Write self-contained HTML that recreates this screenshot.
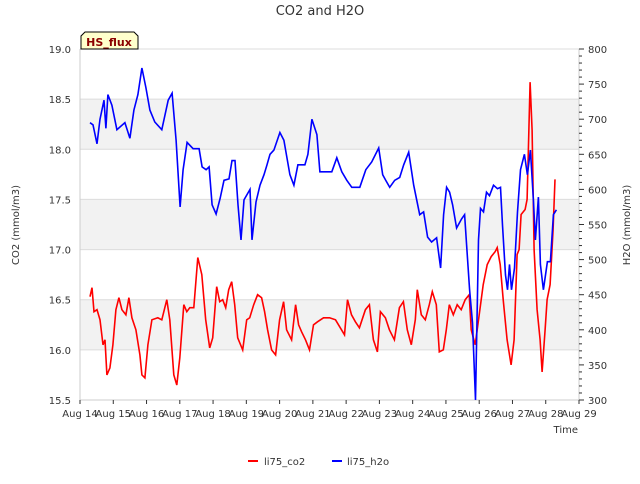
<!DOCTYPE html>
<html><head><meta charset="utf-8"><style>
body{margin:0;background:#fff;font-family:"DejaVu Sans","Liberation Sans",sans-serif;}
svg text{font-family:"DejaVu Sans","Liberation Sans",sans-serif;}
</style></head><body>
<svg id="c" width="640" height="480" xmlns="http://www.w3.org/2000/svg"></svg>
<script>
const xTickLabels=["Aug 14","Aug 15","Aug 16","Aug 17","Aug 18","Aug 19","Aug 20","Aug 21","Aug 22","Aug 23","Aug 24","Aug 25","Aug 26","Aug 27","Aug 28","Aug 29"];
const leftTicks=[15.5,16.0,16.5,17.0,17.5,18.0,18.5,19.0];
const rightTicks=[300,350,400,450,500,550,600,650,700,750,800];
const h2oDays=[0.30,0.39,0.51,0.60,0.72,0.78,0.84,0.96,1.11,1.35,1.50,1.62,1.74,1.86,1.98,2.10,2.25,2.46,2.65,2.77,2.89,3.01,3.10,3.22,3.40,3.58,3.67,3.79,3.88,3.97,4.09,4.21,4.33,4.48,4.57,4.66,4.75,4.84,4.93,5.11,5.17,5.29,5.41,5.53,5.62,5.71,5.83,6.01,6.13,6.31,6.43,6.55,6.76,6.85,6.97,7.12,7.21,7.39,7.57,7.72,7.87,8.02,8.17,8.41,8.59,8.77,8.98,9.10,9.19,9.31,9.46,9.61,9.73,9.88,10.03,10.21,10.33,10.45,10.57,10.72,10.84,10.93,11.02,11.11,11.20,11.32,11.47,11.56,11.62,11.71,11.80,11.89,11.98,12.04,12.13,12.22,12.31,12.43,12.55,12.64,12.70,12.79,12.85,12.91,12.97,13.06,13.15,13.24,13.36,13.45,13.54,13.63,13.69,13.78,13.84,13.93,14.05,14.14,14.23,14.32];
const h2oValues=[695,692,665,700,727,687,735,720,685,695,673,713,735,773,745,713,696,685,727,737,670,575,628,667,658,658,632,628,632,578,565,587,613,615,641,641,578,528,585,600,528,582,606,621,635,650,656,681,670,621,606,635,635,650,700,678,625,625,625,645,625,613,603,603,628,639,659,621,613,603,613,617,635,653,606,564,568,532,525,531,488,564,603,596,578,545,558,564,521,457,410,300,528,573,568,596,591,606,601,603,549,478,457,493,457,488,568,628,650,621,656,585,528,589,493,457,497,497,564,571];
const co2Days=[0.30,0.36,0.42,0.51,0.60,0.69,0.75,0.81,0.90,0.99,1.08,1.17,1.26,1.38,1.47,1.56,1.68,1.80,1.86,1.95,2.04,2.16,2.34,2.46,2.61,2.70,2.82,2.91,3.00,3.12,3.21,3.30,3.42,3.54,3.66,3.78,3.90,3.99,4.11,4.20,4.29,4.38,4.47,4.56,4.65,4.74,4.89,5.01,5.10,5.22,5.34,5.46,5.55,5.64,5.76,5.88,6.00,6.12,6.21,6.36,6.48,6.57,6.66,6.78,6.90,7.02,7.14,7.32,7.50,7.68,7.86,7.95,8.04,8.16,8.28,8.40,8.58,8.70,8.82,8.94,9.03,9.18,9.30,9.45,9.60,9.72,9.84,9.96,10.08,10.14,10.26,10.38,10.50,10.59,10.71,10.80,10.92,11.01,11.10,11.22,11.34,11.46,11.58,11.70,11.76,11.88,12.00,12.12,12.24,12.36,12.48,12.54,12.63,12.72,12.84,12.96,13.05,13.14,13.20,13.26,13.38,13.44,13.53,13.59,13.65,13.74,13.83,13.89,13.98,14.04,14.13,14.22,14.28];
const co2Values=[16.53,16.62,16.38,16.40,16.30,16.05,16.10,15.75,15.82,16.05,16.40,16.52,16.40,16.35,16.52,16.32,16.20,15.95,15.75,15.72,16.05,16.30,16.32,16.30,16.50,16.30,15.75,15.65,15.92,16.45,16.38,16.42,16.42,16.92,16.75,16.30,16.02,16.12,16.63,16.48,16.50,16.42,16.60,16.68,16.45,16.12,16.00,16.30,16.32,16.45,16.55,16.52,16.38,16.20,16.00,15.95,16.30,16.48,16.20,16.10,16.45,16.25,16.18,16.10,16.00,16.25,16.28,16.32,16.32,16.30,16.20,16.15,16.50,16.35,16.28,16.22,16.40,16.45,16.10,15.98,16.38,16.32,16.20,16.10,16.42,16.48,16.20,16.05,16.30,16.60,16.35,16.30,16.45,16.58,16.45,15.98,16.00,16.20,16.45,16.35,16.45,16.40,16.50,16.55,16.20,16.05,16.35,16.65,16.85,16.93,16.98,17.02,16.85,16.50,16.10,15.85,16.10,16.95,17.00,17.35,17.40,17.50,18.67,18.19,17.00,16.40,16.10,15.78,16.20,16.50,16.65,17.20,17.70];

const NS="http://www.w3.org/2000/svg";
const svg=document.getElementById('c');
const L=80,R=579,T=49,B=400;
const xS=d=>L+(R-L)*d/15;
const yL=v=>B-(v-15.5)/3.5*(B-T);
const yR=v=>B-(v-300)/500*(B-T);
function mk(tag,attrs,name,txt){const e=document.createElementNS(NS,tag);for(const k in attrs)e.setAttribute(k,attrs[k]);


if(txt!==undefined)e.textContent=txt;svg.appendChild(e);return e;}
mk('text',{x:320,y:15,'text-anchor':'middle','font-size':13,fill:'#333'},'chart-title','CO2 and H2O');
[[16.0,16.5],[17.0,17.5],[18.0,18.5]].forEach((b,i)=>mk('rect',{x:L,y:yL(b[1]),width:R-L,height:yL(b[0])-yL(b[1]),fill:'#f2f2f2'},'band-'+i));
leftTicks.forEach(v=>{mk('line',{x1:L,x2:R,y1:yL(v),y2:yL(v),stroke:'#dcdcdc','stroke-width':1},'gridline');
mk('text',{x:L-9,y:yL(v)+4,'text-anchor':'end','font-size':10,fill:'#333'},'left-tick-label',v.toFixed(1));});
mk('line',{x1:L,x2:L,y1:T,y2:B,stroke:'#ccc'},'left-axis');
mk('line',{x1:R,x2:R,y1:T,y2:B,stroke:'#ccc'},'right-axis');
mk('line',{x1:L,x2:R,y1:B,y2:B,stroke:'#ccc'},'x-axis');
for(let v=300;v<=800;v+=10)mk('line',{x1:R,x2:R+(v%50?3:5),y1:yR(v),y2:yR(v),stroke:'#333'},'right-minor-tick');
rightTicks.forEach(v=>mk('text',{x:R+9,y:yR(v)+4,'font-size':10,fill:'#333'},'right-tick-label',v));
xTickLabels.forEach((t,i)=>{mk('line',{x1:xS(i),x2:xS(i),y1:B,y2:B+4,stroke:'#333'},'x-tick');
mk('text',{x:xS(i),y:B+17,'text-anchor':'middle','font-size':10,fill:'#333'},'x-tick-label',t);});
mk('text',{x:578,y:433,'text-anchor':'end','font-size':10,fill:'#333'},'x-axis-title','Time');
mk('text',{x:19,y:225,'text-anchor':'middle','font-size':10,fill:'#333',transform:'rotate(-90 19 225)'},'left-axis-title','CO2 (mmol/m3)');
mk('text',{x:630,y:225,'text-anchor':'middle','font-size':10,fill:'#333',transform:'rotate(-90 630 225)'},'right-axis-title','H2O (mmol/m3)');
mk('path',{d:co2Days.map((d,i)=>(i?'L':'M')+xS(d).toFixed(1)+','+yL(co2Values[i]).toFixed(1)).join(''),fill:'none',stroke:'#ff0000','stroke-width':1.6},'co2-line');
mk('path',{d:h2oDays.map((d,i)=>(i?'L':'M')+xS(d).toFixed(1)+','+yR(h2oValues[i]).toFixed(1)).join(''),fill:'none',stroke:'#0000ff','stroke-width':1.6},'h2o-line');
mk('path',{d:'M81,49 L81,36 L85,32 L134,32 L138,36 L138,49 Z',fill:'#ffffcc',stroke:'#000','stroke-width':1},'hs-flux-box');
mk('text',{x:109,y:46,'text-anchor':'middle','font-size':11,'font-weight':'bold',fill:'#8b0000'},'hs-flux-label','HS_flux');
mk('line',{x1:248,x2:258,y1:461,y2:461,stroke:'#ff0000','stroke-width':2},'legend-co2-swatch');
mk('text',{x:264,y:465,'font-size':10,fill:'#333'},'legend-co2-label','li75_co2');
mk('line',{x1:332,x2:342,y1:461,y2:461,stroke:'#0000ff','stroke-width':2},'legend-h2o-swatch');
mk('text',{x:347,y:465,'font-size':10,fill:'#333'},'legend-h2o-label','li75_h2o');
</script>
</body></html>
